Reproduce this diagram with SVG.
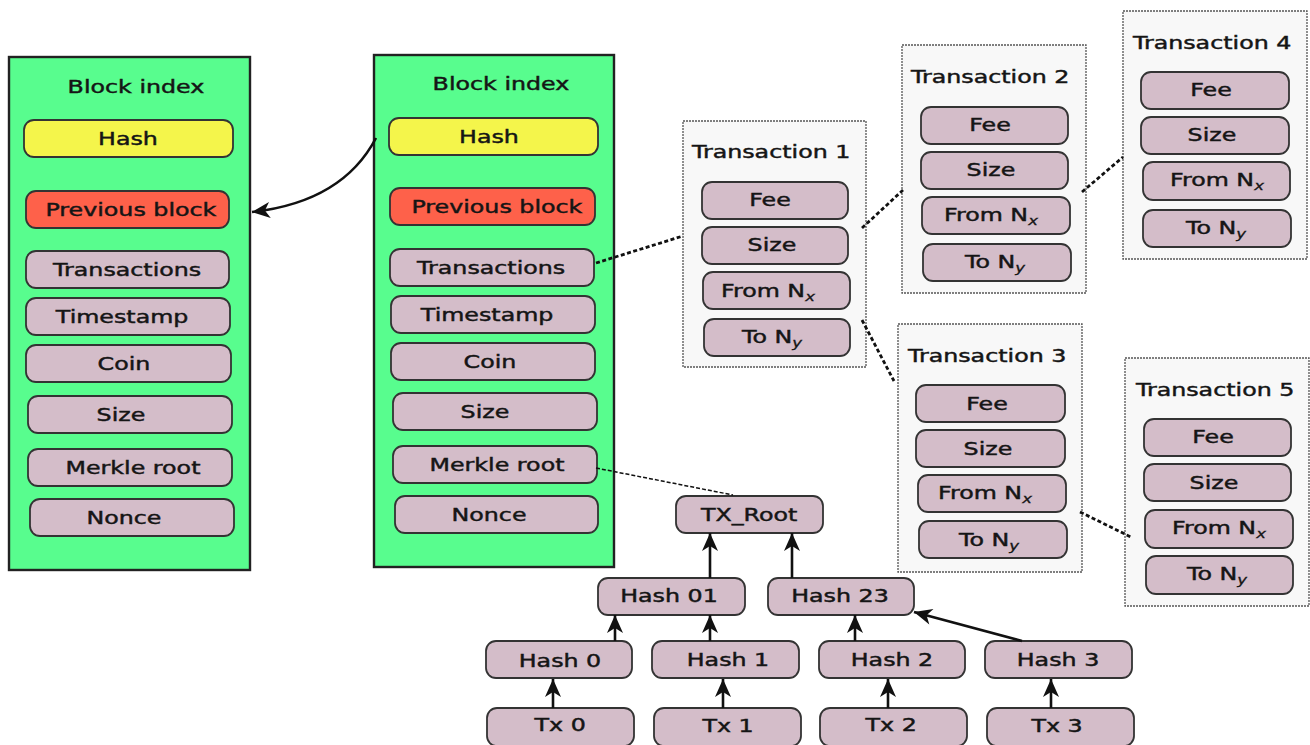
<svg xmlns="http://www.w3.org/2000/svg" width="1310" height="745" viewBox="0 0 1310 745">
<style>
text{font-family:"DejaVu Sans","Liberation Sans",sans-serif;font-size:18px;fill:#151515;stroke:#151515;stroke-width:0.45;text-anchor:middle;transform-box:fill-box;transform-origin:center;transform:scaleX(1.32)}
.blk{fill:#58fd8e;stroke:#222;stroke-width:2.4}
.it{fill:#d4bdc9;stroke:#333;stroke-width:1.8}
.hash{fill:#f4f54b;stroke:#333;stroke-width:1.8}
.prev{fill:#fe614a;stroke:#333;stroke-width:1.8}
.panel{fill:#f8f8f8;stroke:#555;stroke-width:1.3;stroke-dasharray:2 1}
.dot{fill:none;stroke:#111;stroke-width:2.8;stroke-dasharray:4 2.5}
.thin{fill:none;stroke:#111;stroke-width:1.5;stroke-dasharray:4 2}
.arr{fill:none;stroke:#111;stroke-width:2.6;marker-end:url(#ah)}
.sub{font-style:italic;font-size:12.5px;stroke-width:0.3}
</style>
<defs>
<marker id="ah" viewBox="-19 -9 20 18" refX="0" refY="0" markerWidth="20" markerHeight="18" markerUnits="userSpaceOnUse" orient="auto">
<path d="M0,0 L-18,-8 L-13,0 L-18,8 Z" fill="#111"/>
</marker>
</defs>

<g id="block-left">
<rect class="blk" x="9" y="57" width="241" height="513"/>
<text x="136" y="93">Block index</text>
<rect class="hash" x="24" y="120" width="209" height="37" rx="10"/><text x="128" y="145">Hash</text>
<rect class="prev" x="26" y="191" width="203" height="37" rx="10"/><text x="131" y="216">Previous block</text>
<rect class="it" x="26" y="251" width="203" height="37" rx="10"/><text x="127" y="276">Transactions</text>
<rect class="it" x="26" y="298" width="204" height="37" rx="10"/><text x="122" y="323">Timestamp</text>
<rect class="it" x="26" y="345" width="205" height="37" rx="10"/><text x="124" y="370">Coin</text>
<rect class="it" x="28" y="396" width="204" height="37" rx="10"/><text x="121" y="421">Size</text>
<rect class="it" x="28" y="449" width="204" height="37" rx="10"/><text x="133" y="474">Merkle root</text>
<rect class="it" x="30" y="499" width="204" height="37" rx="10"/><text x="124" y="524">Nonce</text>
</g>

<g id="block-middle">
<rect class="blk" x="374" y="55" width="240" height="512"/>
<text x="501" y="90">Block index</text>
<rect class="hash" x="389" y="118" width="209" height="37" rx="10"/><text x="489" y="143">Hash</text>
<rect class="prev" x="390" y="188" width="205" height="37" rx="10"/><text x="497" y="213">Previous block</text>
<rect class="it" x="390" y="249" width="204" height="37" rx="10"/><text x="491" y="274">Transactions</text>
<rect class="it" x="391" y="296" width="204" height="37" rx="10"/><text x="487" y="321">Timestamp</text>
<rect class="it" x="391" y="343" width="204" height="37" rx="10"/><text x="490" y="368">Coin</text>
<rect class="it" x="393" y="393" width="204" height="37" rx="10"/><text x="485" y="418">Size</text>
<rect class="it" x="393" y="446" width="204" height="37" rx="10"/><text x="497" y="471">Merkle root</text>
<rect class="it" x="395" y="496" width="203" height="37" rx="10"/><text x="489" y="521">Nonce</text>
</g>

<g id="transaction-1">
<rect class="panel" x="683" y="121" width="183" height="246"/>
<text x="771" y="158">Transaction 1</text>
<rect class="it" x="702" y="182" width="146" height="37" rx="10"/><text x="770" y="206">Fee</text>
<rect class="it" x="702" y="227" width="146" height="37" rx="10"/><text x="772" y="251">Size</text>
<rect class="it" x="703" y="272" width="147" height="37" rx="10"/><text x="768" y="297">From N<tspan class="sub" dy="4">x</tspan></text>
<rect class="it" x="704" y="319" width="146" height="37" rx="10"/><text x="772" y="343">To N<tspan class="sub" dy="4">y</tspan></text>
</g>

<g id="transaction-2">
<rect class="panel" x="902" y="45" width="184" height="248"/>
<text x="990" y="83">Transaction 2</text>
<rect class="it" x="921" y="107" width="147" height="37" rx="10"/><text x="990" y="131">Fee</text>
<rect class="it" x="921" y="152" width="147" height="37" rx="10"/><text x="991" y="176">Size</text>
<rect class="it" x="922" y="197" width="148" height="37" rx="10"/><text x="991" y="221">From N<tspan class="sub" dy="4">x</tspan></text>
<rect class="it" x="923" y="244" width="148" height="37" rx="10"/><text x="995" y="268">To N<tspan class="sub" dy="4">y</tspan></text>
</g>

<g id="transaction-4">
<rect class="panel" x="1123" y="11" width="184" height="248"/>
<text x="1212" y="49">Transaction 4</text>
<rect class="it" x="1141" y="72" width="148" height="37" rx="10"/><text x="1211" y="96">Fee</text>
<rect class="it" x="1141" y="117" width="148" height="37" rx="10"/><text x="1212" y="141">Size</text>
<rect class="it" x="1143" y="162" width="147" height="38" rx="10"/><text x="1217" y="186">From N<tspan class="sub" dy="4">x</tspan></text>
<rect class="it" x="1143" y="210" width="148" height="37" rx="10"/><text x="1216" y="234">To N<tspan class="sub" dy="4">y</tspan></text>
</g>

<g id="transaction-3">
<rect class="panel" x="898" y="324" width="184" height="248"/>
<text x="987" y="362">Transaction 3</text>
<rect class="it" x="916" y="385" width="149" height="37" rx="10"/><text x="987" y="410">Fee</text>
<rect class="it" x="916" y="430" width="149" height="37" rx="10"/><text x="988" y="455">Size</text>
<rect class="it" x="918" y="475" width="148" height="37" rx="10"/><text x="985" y="499">From N<tspan class="sub" dy="4">x</tspan></text>
<rect class="it" x="919" y="521" width="148" height="37" rx="10"/><text x="989" y="546">To N<tspan class="sub" dy="4">y</tspan></text>
</g>

<g id="transaction-5">
<rect class="panel" x="1125" y="358" width="184" height="248"/>
<text x="1215" y="396">Transaction 5</text>
<rect class="it" x="1144" y="419" width="147" height="37" rx="10"/><text x="1213" y="443">Fee</text>
<rect class="it" x="1144" y="464" width="147" height="37" rx="10"/><text x="1214" y="489">Size</text>
<rect class="it" x="1145" y="510" width="148" height="38" rx="10"/><text x="1219" y="534">From N<tspan class="sub" dy="4">x</tspan></text>
<rect class="it" x="1146" y="556" width="147" height="38" rx="10"/><text x="1217" y="580">To N<tspan class="sub" dy="4">y</tspan></text>
</g>

<g id="tx-root"><rect class="it" x="676" y="496" width="147" height="37" rx="10"/><text x="749" y="521">TX_Root</text></g>
<g id="hash-01"><rect class="it" x="598" y="578" width="147" height="37" rx="10"/><text x="669" y="602">Hash 01</text></g>
<g id="hash-23"><rect class="it" x="768" y="578" width="146" height="37" rx="10"/><text x="840" y="602">Hash 23</text></g>
<g id="hash-0"><rect class="it" x="486" y="641" width="146" height="37" rx="10"/><text x="560" y="667">Hash 0</text></g>
<g id="hash-1"><rect class="it" x="652" y="641" width="147" height="37" rx="10"/><text x="728" y="666">Hash 1</text></g>
<g id="hash-2"><rect class="it" x="819" y="641" width="146" height="37" rx="10"/><text x="892" y="666">Hash 2</text></g>
<g id="hash-3"><rect class="it" x="985" y="641" width="147" height="37" rx="10"/><text x="1058" y="666">Hash 3</text></g>
<g id="tx-0"><rect class="it" x="487" y="708" width="147" height="38" rx="10"/><text x="560" y="731">Tx 0</text></g>
<g id="tx-1"><rect class="it" x="654" y="708" width="147" height="38" rx="10"/><text x="728" y="732">Tx 1</text></g>
<g id="tx-2"><rect class="it" x="820" y="708" width="147" height="38" rx="10"/><text x="891" y="731">Tx 2</text></g>
<g id="tx-3"><rect class="it" x="987" y="708" width="147" height="38" rx="10"/><text x="1057" y="732">Tx 3</text></g>

<g id="connectors">
<path class="arr" d="M376,138 C355,178 315,205 252,212"/>
<path class="dot" d="M596,263 L683,236"/>
<path class="dot" d="M862,228 L903,190"/>
<path class="dot" d="M1082,192 L1123,157"/>
<path class="dot" d="M862,320 L894,381"/>
<path class="dot" d="M1080,512 L1131,537"/>
<path class="thin" d="M596,468 L733,495"/>
<path class="arr" d="M553,708 L553,679"/>
<path class="arr" d="M723,708 L723,679"/>
<path class="arr" d="M888,708 L888,679"/>
<path class="arr" d="M1051,708 L1051,679"/>
<path class="arr" d="M615,641 L615,615"/>
<path class="arr" d="M710,641 L710,615"/>
<path class="arr" d="M855,641 L855,615"/>
<path class="arr" d="M1022,641 L914,612"/>
<path class="arr" d="M710,578 L710,533"/>
<path class="arr" d="M792,578 L792,533"/>
</g>
</svg>
